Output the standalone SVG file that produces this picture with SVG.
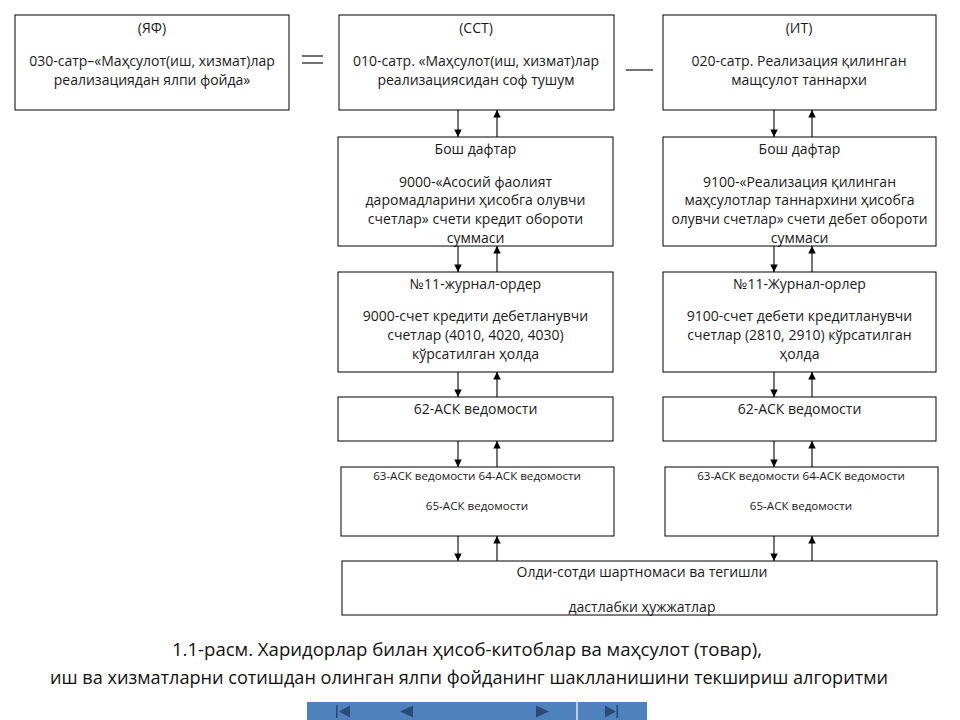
<svg xmlns="http://www.w3.org/2000/svg" width="960" height="720" viewBox="0 0 960 720">
<style>
  .box{fill:#fff;stroke:#000;stroke-width:1}
  .t{font-family:"Open Sans","Noto Sans","DejaVu Sans",sans-serif;font-size:14px;fill:#1a1a1a;text-anchor:middle}
  .s{font-family:"Open Sans","Noto Sans","DejaVu Sans",sans-serif;font-size:11.6px;fill:#1a1a1a;text-anchor:middle}
  .cap{font-family:"Open Sans","Noto Sans","DejaVu Sans",sans-serif;font-size:18.3px;fill:#111;text-anchor:middle}
  .ln{stroke:#000;stroke-width:1.1;fill:none}
  .icon{fill:#2d4a74}
</style>
<defs>
  <marker id="ah" viewBox="0 0 10 10" refX="10" refY="5" markerWidth="8" markerHeight="7.5" markerUnits="userSpaceOnUse" orient="auto">
    <path d="M0,0 L10,5 L0,10 z" fill="#000"/>
  </marker>
</defs>
<rect width="960" height="720" fill="#fff"/>

<g id="connectors">
  <line class="ln" x1="302" y1="56" x2="323" y2="56"/>
  <line class="ln" x1="302" y1="63" x2="323" y2="63"/>
  <line class="ln" x1="626" y1="70" x2="653" y2="70"/>
  <line class="ln" x1="458" y1="110" x2="458" y2="137" marker-end="url(#ah)"/>
  <line class="ln" x1="497" y1="137" x2="497" y2="110" marker-end="url(#ah)"/>
  <line class="ln" x1="458" y1="246" x2="458" y2="272" marker-end="url(#ah)"/>
  <line class="ln" x1="497" y1="272" x2="497" y2="246" marker-end="url(#ah)"/>
  <line class="ln" x1="458" y1="372" x2="458" y2="397" marker-end="url(#ah)"/>
  <line class="ln" x1="497" y1="397" x2="497" y2="372" marker-end="url(#ah)"/>
  <line class="ln" x1="458" y1="441" x2="458" y2="467" marker-end="url(#ah)"/>
  <line class="ln" x1="497" y1="467" x2="497" y2="441" marker-end="url(#ah)"/>
  <line class="ln" x1="458" y1="536" x2="458" y2="561" marker-end="url(#ah)"/>
  <line class="ln" x1="497" y1="561" x2="497" y2="536" marker-end="url(#ah)"/>
  <line class="ln" x1="774" y1="110" x2="774" y2="137" marker-end="url(#ah)"/>
  <line class="ln" x1="812" y1="137" x2="812" y2="110" marker-end="url(#ah)"/>
  <line class="ln" x1="774" y1="246" x2="774" y2="272" marker-end="url(#ah)"/>
  <line class="ln" x1="812" y1="272" x2="812" y2="246" marker-end="url(#ah)"/>
  <line class="ln" x1="774" y1="372" x2="774" y2="397" marker-end="url(#ah)"/>
  <line class="ln" x1="812" y1="397" x2="812" y2="372" marker-end="url(#ah)"/>
  <line class="ln" x1="774" y1="441" x2="774" y2="467" marker-end="url(#ah)"/>
  <line class="ln" x1="812" y1="467" x2="812" y2="441" marker-end="url(#ah)"/>
  <line class="ln" x1="774" y1="536" x2="774" y2="561" marker-end="url(#ah)"/>
  <line class="ln" x1="812" y1="561" x2="812" y2="536" marker-end="url(#ah)"/>
</g>

<g id="node-yaf">
  <rect class="box" x="15" y="15" width="274" height="95"/>
  <text class="t" x="152" y="33">(ЯФ)</text>
  <text class="t" x="152" y="66">030-сатр–«Маҳсулот(иш, хизмат)лар</text>
  <text class="t" x="152" y="85">реализациядан ялпи фойда»</text>
</g>
<g id="node-sst">
  <rect class="box" x="339" y="15" width="275" height="95"/>
  <text class="t" x="476" y="33">(ССТ)</text>
  <text class="t" x="476" y="66">010-сатр. «Маҳсулот(иш, хизмат)лар</text>
  <text class="t" x="476" y="85">реализациясидан соф тушум</text>
</g>
<g id="node-it">
  <rect class="box" x="663" y="15" width="273" height="95"/>
  <text class="t" x="799" y="33">(ИТ)</text>
  <text class="t" x="799" y="66">020-сатр. Реализация қилинган</text>
  <text class="t" x="799" y="85">мащсулот таннархи</text>
</g>

<g id="node-bosh-left">
  <rect class="box" x="338" y="137" width="275" height="109"/>
  <text class="t" x="475.5" y="154">Бош дафтар</text>
  <text class="t" x="475.5" y="187">9000-«Асосий фаолият</text>
  <text class="t" x="475.5" y="205">даромадларини ҳисобга олувчи</text>
  <text class="t" x="475.5" y="224">счетлар» счети кредит обороти</text>
  <text class="t" x="475.5" y="243">суммаси</text>
</g>
<g id="node-bosh-right">
  <rect class="box" x="663" y="137" width="273" height="109"/>
  <text class="t" x="799.5" y="154">Бош дафтар</text>
  <text class="t" x="799.5" y="187">9100-«Реализация қилинган</text>
  <text class="t" x="799.5" y="205">маҳсулотлар таннархини ҳисобга</text>
  <text class="t" x="799.5" y="224" textLength="256" lengthAdjust="spacingAndGlyphs">олувчи счетлар» счети дебет обороти</text>
  <text class="t" x="799.5" y="243">суммаси</text>
</g>

<g id="node-jo-left">
  <rect class="box" x="338" y="272" width="275" height="100"/>
  <text class="t" x="475.5" y="289">№11-журнал-ордер</text>
  <text class="t" x="475.5" y="321">9000-счет кредити дебетланувчи</text>
  <text class="t" x="475.5" y="340">счетлар (4010, 4020, 4030)</text>
  <text class="t" x="475.5" y="359">кўрсатилган ҳолда</text>
</g>
<g id="node-jo-right">
  <rect class="box" x="663" y="272" width="273" height="100"/>
  <text class="t" x="799.5" y="289">№11-Журнал-орлер</text>
  <text class="t" x="799.5" y="321">9100-счет дебети кредитланувчи</text>
  <text class="t" x="799.5" y="340">счетлар (2810, 2910) кўрсатилган</text>
  <text class="t" x="799.5" y="359">ҳолда</text>
</g>

<g id="node-62-left">
  <rect class="box" x="338" y="397" width="275" height="44"/>
  <text class="t" x="475.5" y="414">62-АСК ведомости</text>
</g>
<g id="node-62-right">
  <rect class="box" x="663" y="397" width="273" height="44"/>
  <text class="t" x="799.5" y="414">62-АСК ведомости</text>
</g>

<g id="node-63-left">
  <rect class="box" x="341" y="467" width="273" height="69"/>
  <text class="s" x="477" y="480">63-АСК ведомости 64-АСК ведомости</text>
  <text class="s" x="477" y="510">65-АСК ведомости</text>
</g>
<g id="node-63-right">
  <rect class="box" x="665" y="467" width="273" height="69"/>
  <text class="s" x="801" y="480">63-АСК ведомости 64-АСК ведомости</text>
  <text class="s" x="801" y="510">65-АСК ведомости</text>
</g>

<g id="node-oldi">
  <rect class="box" x="342" y="561" width="595" height="54"/>
  <text class="t" x="642" y="577">Олди-сотди шартномаси ва тегишли</text>
  <text class="t" x="642" y="612">дастлабки ҳужжатлар</text>
</g>

<g id="caption">
  <text class="cap" x="467" y="656" textLength="590" lengthAdjust="spacingAndGlyphs">1.1-расм. Харидорлар билан ҳисоб-китоблар ва маҳсулот (товар),</text>
  <text class="cap" x="469" y="684" textLength="838" lengthAdjust="spacingAndGlyphs">иш ва хизматларни сотишдан олинган ялпи фойданинг шаклланишини текшириш алгоритми</text>
</g>

<g id="navbar">
  <rect x="307" y="702" width="340" height="18" fill="#4f81bd"/>
  <line x1="577" y1="702" x2="577" y2="720" stroke="#fff" stroke-width="1.2"/>
  <rect class="icon" x="336" y="705" width="1.6" height="13"/>
  <polygon class="icon" points="350,705.5 339,711.5 350,717.5"/>
  <polygon class="icon" points="413,705.5 400,711.5 413,717.5"/>
  <polygon class="icon" points="536,705.5 549,711.5 536,717.5"/>
  <polygon class="icon" points="605,705.5 616,711.5 605,717.5"/>
  <rect class="icon" x="616.5" y="705" width="1.6" height="13"/>
</g>
</svg>
